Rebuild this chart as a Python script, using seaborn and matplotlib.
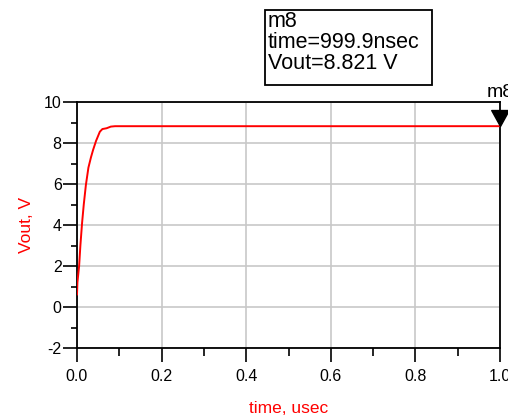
import matplotlib
matplotlib.use("Agg")
import matplotlib.pyplot as plt
from matplotlib.patches import Rectangle
from matplotlib.path import Path
import seaborn as sns
import pandas as pd

# Transient response of Vout (time in usec, voltage in V)
time_us = [0.0, 0.001, 0.005, 0.008, 0.012, 0.016, 0.021, 0.027, 0.033, 0.038,
           0.045, 0.054, 0.060, 0.070, 0.080, 0.090, 0.2, 0.4, 0.6, 0.8, 0.9999]
vout = [0.6, 1.2, 2.0, 3.0, 4.1, 5.0, 5.95, 6.8, 7.3, 7.66,
        8.1, 8.55, 8.68, 8.72, 8.80, 8.82, 8.82, 8.82, 8.82, 8.82, 8.821]

marker_name = "m8"
marker_time = 0.9999
marker_value = 8.821

x_ticks = [0.0, 0.2, 0.4, 0.6, 0.8, 1.0]
x_tick_labels = ["0.0", "0.2", "0.4", "0.6", "0.8", "1.0"]
y_ticks = [-2, 0, 2, 4, 6, 8, 10]
y_tick_labels = ["-2", "0", "2", "4", "6", "8", "10"]

df = pd.DataFrame({"time": time_us, "Vout": vout})

sns.set_theme(style="white")
plt.rcParams["font.family"] = ["Liberation Sans", "DejaVu Sans"]

W, H = 508, 419
fig = plt.figure(figsize=(W / 100, H / 100), dpi=100)
ax = fig.add_axes([77 / W, 1 - 348 / H, (500 - 77) / W, (348 - 102) / H])

sns.lineplot(data=df, x="time", y="Vout", color="#ff0000", linewidth=1.4,
             ax=ax, zorder=3)

ax.set_xlim(0, 1.0)
ax.set_ylim(-2, 10)
ax.set_xticks(x_ticks)
ax.set_xticklabels(x_tick_labels)
ax.set_yticks(y_ticks)
ax.set_yticklabels(y_tick_labels)
ax.set_xticks([0.1, 0.3, 0.5, 0.7, 0.9], minor=True)
ax.set_yticks([-1, 1, 3, 5, 7, 9], minor=True)

ax.grid(True, which="major", color="#c8c8c8", linewidth=1.2)
ax.set_axisbelow(True)
for s in ax.spines.values():
    s.set_color("black")
    s.set_linewidth(1.3)
    s.set_visible(True)

ax.tick_params(axis="both", which="major", direction="out", length=10,
               width=1.2, color="black", labelsize=11.5, labelcolor="black",
               left=True, bottom=True, pad=1)
ax.tick_params(axis="y", which="minor", direction="out", length=4, width=1.2,
               color="black", left=True)
ax.tick_params(axis="x", which="minor", direction="out", length=6, width=1.2,
               color="black", bottom=True)
ax.tick_params(axis="x", which="major", pad=5)

ax.set_xlabel("time, usec", color="#ff0000", fontsize=12.5, labelpad=12)
ax.set_ylabel("Vout, V", color="#ff0000", fontsize=12.5, labelpad=7)

# marker triangle with its tip on the trace
tri = Path([(-0.55, 1.0), (0.55, 1.0), (0.0, 0.0), (-0.55, 1.0)],
           [Path.MOVETO, Path.LINETO, Path.LINETO, Path.CLOSEPOLY])
ax.plot([marker_time], [marker_value], marker=tri, markersize=23,
        color="black", clip_on=False, zorder=5, linestyle="none")
ax.text(marker_time, 10.05, marker_name, ha="center", va="bottom",
        fontsize=14, color="black", clip_on=False)

# marker readout box
fig.patches.append(Rectangle((265 / W, 1 - 85 / H), (432 - 265) / W, 75 / H,
                             transform=fig.transFigure, fill=False,
                             edgecolor="black", linewidth=1.3))
fig.text(268 / W, 1 - 11 / H,
         f"{marker_name}\ntime={marker_time * 1000:.1f}nsec\nVout={marker_value:.3f} V",
         ha="left", va="top", fontsize=15.5, linespacing=1.0, color="black")

fig.savefig("out.png", dpi=100)
